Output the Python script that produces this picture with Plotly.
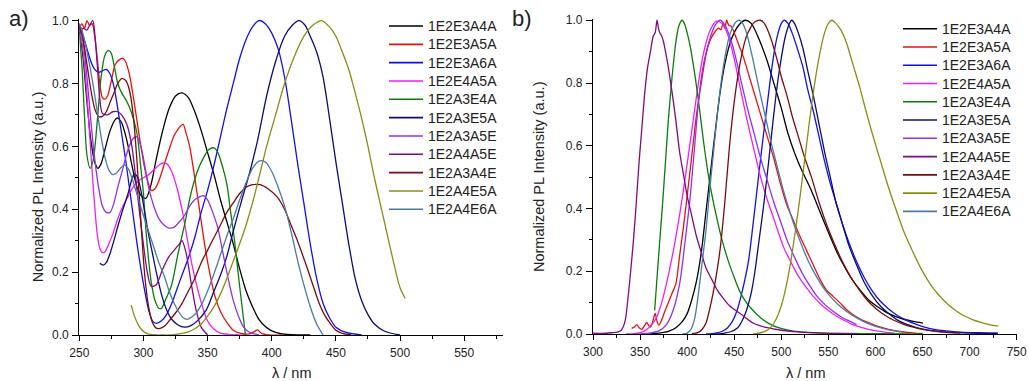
import plotly.graph_objects as go

W, H = 1029, 381
FONT = "Liberation Sans, Arial, Helvetica, sans-serif"
TXT = "#222222"

SERIES = ["1E2E3A4A", "1E2E3A5A", "1E2E3A6A", "1E2E4A5A", "1E2A3E4A", "1E2A3E5A",
          "1E2A3A5E", "1E2A4A5E", "1E2A3A4E", "1E2A4E5A", "1E2A4E6A"]
COLORS = ["#000000", "#e8120c", "#1010f0", "#f020f0", "#0a7d0a", "#0c0c78",
          "#9030f0", "#800a80", "#7a0c0c", "#8c8c14", "#4a7aa8"]

X_TICKS_A = [250, 300, 350, 400, 450, 500, 550]
X_TICKS_B = [300, 350, 400, 450, 500, 550, 600, 650, 700, 750]
Y_TICKS = [0.0, 0.2, 0.4, 0.6, 0.8, 1.0]

# ---------------- panel a ----------------
# 1E2E3A4A
a1_wl = [250, 253, 256, 259, 262, 264.5, 267, 270, 274, 278, 280, 283, 287, 291, 295, 299, 302, 306, 310, 315,
         320, 325, 330, 335, 340, 345, 350, 355, 360, 365, 370, 375, 380, 385, 390, 395, 400, 407, 415, 430]
a1_int = [0.98, 0.88, 0.74, 0.62, 0.55, 0.53, 0.545, 0.59, 0.65, 0.685, 0.69, 0.675, 0.62, 0.54, 0.47, 0.44, 0.435, 0.48, 0.56, 0.65,
          0.72, 0.76, 0.77, 0.755, 0.71, 0.65, 0.58, 0.51, 0.43, 0.36, 0.29, 0.21, 0.14, 0.09, 0.05, 0.027, 0.013, 0.004, 0.001, 0.0]
# 1E2E3A5A
a2_wl = [250, 252, 254, 256, 258, 260, 262, 264, 266, 268, 270, 272, 275, 278, 281, 284, 286, 289, 292, 295,
         298, 301, 304, 306, 309, 312, 316, 320, 324, 327, 329, 331, 333, 336, 340, 344, 348, 352, 356, 360,
         365, 370, 376, 382, 386, 389, 392, 398, 410]
a2_int = [0.97, 0.99, 0.975, 1.0, 0.985, 0.99, 0.95, 0.88, 0.8, 0.755, 0.75, 0.76, 0.81, 0.86, 0.875, 0.88, 0.87, 0.83, 0.76, 0.68,
          0.6, 0.53, 0.48, 0.46, 0.465, 0.49, 0.54, 0.59, 0.635, 0.655, 0.665, 0.67, 0.645, 0.6, 0.5, 0.39, 0.28, 0.19, 0.12, 0.075,
          0.04, 0.015, 0.005, 0.003, 0.01, 0.016, 0.005, 0.0, 0.0]
# 1E2E3A6A
a3_wl = [250, 253, 256, 259, 262, 265, 268, 271, 274, 277, 280, 283, 286, 289, 292, 295, 298, 301, 304, 307,
         310, 314, 318, 322, 326, 330, 335, 340, 345, 350, 355, 360, 365, 370, 375, 380, 385, 390, 395, 400,
         405, 410, 415, 420, 425, 430, 435, 440, 445, 450, 458, 470]
a3_int = [0.98, 0.95, 0.91, 0.87, 0.845, 0.835, 0.84, 0.845, 0.83, 0.79, 0.72, 0.64, 0.56, 0.47, 0.38, 0.29, 0.21, 0.14, 0.08, 0.045,
          0.037, 0.045, 0.065, 0.1, 0.145, 0.19, 0.245, 0.31, 0.39, 0.46, 0.54, 0.63, 0.72, 0.8, 0.88, 0.94, 0.98, 1.0, 0.99, 0.96,
          0.91, 0.82, 0.69, 0.55, 0.42, 0.29, 0.18, 0.1, 0.055, 0.025, 0.008, 0.0]
# 1E2E4A5A
a4_wl = [250, 252, 254, 256, 258, 260, 262, 264, 266, 268, 270, 273, 276, 280, 284, 288, 292, 296, 300, 304,
         308, 312, 315, 318, 322, 326, 330, 334, 338, 342, 346, 350, 355, 360, 367, 380]
a4_int = [0.97, 0.93, 0.86, 0.76, 0.64, 0.52, 0.41, 0.32, 0.275, 0.262, 0.265, 0.29, 0.32, 0.37, 0.41, 0.44, 0.47, 0.49, 0.5, 0.51,
          0.525, 0.54, 0.547, 0.545, 0.52, 0.47, 0.4, 0.31, 0.22, 0.15, 0.09, 0.045, 0.018, 0.006, 0.002, 0.0]
# 1E2A3E4A
a5_wl = [250, 252, 254, 256, 258.5, 261, 264, 267, 270, 273, 275, 277, 280, 283, 286, 289, 292, 295, 298, 300,
         302, 304, 306, 309, 312, 314, 317, 322, 327, 332, 337, 342, 347, 351, 355, 358, 362, 365, 368, 371,
         374, 377, 379.5]
a5_int = [0.96, 0.86, 0.7, 0.57, 0.53, 0.56, 0.68, 0.82, 0.89, 0.905, 0.895, 0.86, 0.8, 0.77, 0.75, 0.725, 0.69, 0.64, 0.53, 0.45,
          0.33, 0.24, 0.17, 0.11, 0.085, 0.085, 0.11, 0.16, 0.26, 0.35, 0.45, 0.52, 0.565, 0.59, 0.595, 0.58, 0.53, 0.48, 0.39, 0.3,
          0.19, 0.085, 0.0]
# 1E2A3E5A
a6_wl = [266, 268.5, 271, 274, 277, 280, 284, 288, 291, 293, 295, 298, 301, 304, 307, 310, 314, 318, 322, 327,
         332, 337, 342, 349, 355, 360, 365, 370, 376, 383, 389, 396, 403, 410, 416, 421, 426, 430, 435, 440,
         445, 450, 455, 460, 465, 470, 475, 480, 488, 500]
a6_int = [0.228, 0.222, 0.23, 0.26, 0.3, 0.345, 0.4, 0.45, 0.495, 0.512, 0.505, 0.46, 0.39, 0.32, 0.26, 0.2, 0.13, 0.08, 0.05, 0.032,
          0.025, 0.03, 0.045, 0.08, 0.14, 0.19, 0.25, 0.33, 0.42, 0.52, 0.62, 0.76, 0.87, 0.95, 0.985, 1.0, 0.985, 0.95, 0.9, 0.82,
          0.69, 0.55, 0.42, 0.29, 0.18, 0.11, 0.065, 0.035, 0.012, 0.0]
# 1E2A3A5E
a7_wl = [250, 253, 256, 259, 262, 265, 268, 271, 274, 277, 280, 284, 288, 292, 295, 298, 301, 304, 308, 312,
         316, 320, 324, 328, 332, 336, 340, 344, 347, 350, 354, 358, 362, 366, 370, 374, 378, 383, 390]
a7_int = [0.99, 0.93, 0.82, 0.68, 0.56, 0.47, 0.41, 0.39, 0.39, 0.42, 0.47, 0.53, 0.59, 0.625, 0.63, 0.6, 0.54, 0.47, 0.41, 0.37,
          0.35, 0.34, 0.343, 0.36, 0.38, 0.41, 0.43, 0.44, 0.443, 0.43, 0.39, 0.34, 0.26, 0.18, 0.11, 0.06, 0.025, 0.008, 0.0]
# 1E2A4A5E
a8_wl = [250, 253, 256, 258, 260.5, 262, 264, 266, 268, 272, 276, 280, 283, 287, 291, 295, 299, 303, 306, 310,
         315, 320, 324, 328, 330, 333, 337, 341, 345, 350]
a8_int = [0.96, 0.975, 0.97, 0.985, 1.0, 0.96, 0.86, 0.75, 0.705, 0.7, 0.71, 0.71, 0.7, 0.67, 0.6, 0.46, 0.32, 0.2, 0.155, 0.16,
          0.21, 0.25, 0.27, 0.29, 0.3, 0.265, 0.17, 0.08, 0.025, 0.0]
# 1E2A3A4E
a9_wl = [250, 253, 256, 259, 262, 265, 268, 271, 274, 277, 280, 283, 286, 289, 292, 295, 298, 301, 304, 307,
         310, 313, 317, 321, 325, 330, 335, 340, 345, 350, 355, 360, 365, 370, 375, 380, 385, 391, 397, 404,
         410, 415, 420, 427, 432, 437, 441, 445, 450, 455, 462]
a9_int = [0.99, 0.94, 0.86, 0.78, 0.72, 0.695, 0.695, 0.71, 0.74, 0.77, 0.8, 0.815, 0.81, 0.78, 0.7, 0.55, 0.36, 0.19, 0.09, 0.04,
          0.022, 0.021, 0.03, 0.05, 0.07, 0.1, 0.14, 0.18, 0.23, 0.27, 0.31, 0.35, 0.39, 0.42, 0.45, 0.47, 0.478, 0.478, 0.465, 0.44,
          0.4, 0.35, 0.3, 0.22, 0.16, 0.1, 0.065, 0.04, 0.015, 0.005, 0.0]
# 1E2A4E5A
a10_wl = [290.5, 293, 296, 299, 302, 305, 310, 315, 320, 325, 330, 335, 340, 345, 350, 355, 360, 365, 370, 375,
          380, 385, 390, 396, 403, 410, 418, 425, 432, 439, 445, 450, 455, 460, 465, 470, 475, 480, 485, 490,
          495, 500, 504]
a10_int = [0.095, 0.06, 0.032, 0.015, 0.006, 0.002, 0.0, 0.0, 0.0, 0.002, 0.005, 0.01, 0.02, 0.035, 0.06, 0.09, 0.13, 0.18, 0.235, 0.29,
           0.35, 0.42, 0.5, 0.6, 0.7, 0.8, 0.89, 0.95, 0.985, 1.0, 0.98, 0.95, 0.9, 0.845, 0.77, 0.69, 0.6, 0.5, 0.41, 0.32,
           0.23, 0.15, 0.116]
# 1E2A4E6A
a11_wl = [250, 252, 255, 258, 261, 264, 267, 270, 273, 276, 279, 282, 285, 288, 291, 294, 297, 300, 304, 308,
          312, 316, 320, 324, 328, 331, 334, 340, 345, 350, 355, 360, 365, 370, 375, 380, 385, 390, 395, 400,
          405, 410, 415, 420, 425, 430, 435, 440]
a11_int = [0.99, 0.97, 0.92, 0.86, 0.79, 0.71, 0.63, 0.565, 0.525, 0.51, 0.515, 0.53, 0.54, 0.53, 0.5, 0.46, 0.42, 0.38, 0.33, 0.28,
           0.23, 0.19, 0.14, 0.1, 0.07, 0.055, 0.05, 0.065, 0.095, 0.14, 0.195, 0.255, 0.315, 0.37, 0.43, 0.485, 0.53, 0.553, 0.55, 0.52,
           0.47, 0.41, 0.33, 0.24, 0.16, 0.09, 0.035, 0.0]

# ---------------- panel b ----------------
# 1E2E3A4A
b1_wl = [355, 370, 380, 388, 395, 400, 405, 410, 415, 420, 425, 430, 435, 440, 447, 455, 462, 468, 477, 485,
         492, 500, 507, 515, 522, 530, 537, 545, 552, 560, 568, 576, 585, 594, 603, 612, 621, 630, 640, 650.5]
b1_int = [0.0, 0.003, 0.008, 0.02, 0.04, 0.065, 0.11, 0.17, 0.26, 0.39, 0.52, 0.65, 0.77, 0.86, 0.94, 0.985, 1.0, 0.99, 0.935, 0.87,
          0.8, 0.72, 0.64, 0.57, 0.52, 0.47, 0.42, 0.36, 0.31, 0.255, 0.21, 0.17, 0.135, 0.105, 0.085, 0.068, 0.056, 0.047, 0.04, 0.035]
# 1E2E3A5A
b2_wl = [341, 344, 346.5, 349, 352, 355, 357, 359, 361, 363.5, 366, 368, 370, 373, 376, 380, 384, 388, 392, 396,
         400, 405, 410, 415, 420, 425, 430, 433, 436, 438, 440, 442, 444, 447, 450, 455, 460, 466, 472, 478,
         485, 492, 499, 506, 513, 520, 527, 534, 541, 548, 555, 562, 570, 578, 586, 594, 602, 610, 618, 626,
         634, 642, 650]
b2_int = [0.018, 0.022, 0.03, 0.02, 0.015, 0.028, 0.037, 0.028, 0.022, 0.04, 0.066, 0.04, 0.028, 0.045, 0.07, 0.1, 0.13, 0.16, 0.25, 0.34,
          0.44, 0.57, 0.7, 0.8, 0.89, 0.94, 0.965, 0.975, 0.97, 0.99, 0.975, 1.0, 0.985, 0.98, 0.96, 0.92, 0.88, 0.82, 0.76, 0.7,
          0.63, 0.56, 0.48, 0.41, 0.36, 0.31, 0.265, 0.22, 0.175, 0.14, 0.12, 0.1, 0.076, 0.058, 0.044, 0.035, 0.025, 0.018, 0.012, 0.008,
          0.005, 0.003, 0.002]
# 1E2E3A6A
b3_wl = [420, 430, 437, 443, 448, 453, 458, 465, 470, 475, 480, 485, 490, 495, 500, 503, 507, 512, 517, 523,
         528, 534, 540, 546, 552, 558, 565, 572, 580, 588, 596, 605, 614, 623, 632, 642, 652, 662, 675, 690,
         710, 730]
b3_int = [0.0, 0.003, 0.008, 0.02, 0.04, 0.075, 0.13, 0.23, 0.35, 0.48, 0.61, 0.73, 0.85, 0.94, 0.99, 1.0, 0.99, 0.955, 0.91, 0.85,
          0.78, 0.71, 0.63, 0.55, 0.48, 0.42, 0.35, 0.29, 0.23, 0.18, 0.14, 0.105, 0.08, 0.06, 0.045, 0.032, 0.022, 0.015, 0.01, 0.006,
          0.004, 0.003]
# 1E2E4A5A
b4_wl = [335, 348, 355, 361, 367, 372, 378, 385, 392, 399, 405, 411, 417, 424, 431, 437, 443, 449, 456, 463,
         470, 478, 486, 494, 502, 510, 518, 526, 534, 542, 550, 558, 567, 576, 585, 594, 603, 612, 620]
b4_int = [0.0, 0.003, 0.01, 0.025, 0.05, 0.09, 0.16, 0.26, 0.38, 0.52, 0.65, 0.78, 0.89, 0.965, 0.997, 0.99, 0.955, 0.89, 0.79, 0.69,
          0.6, 0.5, 0.42, 0.35, 0.28, 0.23, 0.185, 0.15, 0.12, 0.095, 0.075, 0.058, 0.043, 0.03, 0.021, 0.014, 0.009, 0.005, 0.003]
# 1E2A3E4A
b5_wl = [365.5, 368, 371, 374, 377, 380, 384, 388, 391, 394.5, 397, 400, 403, 408, 413, 418, 424, 430, 437, 444,
         450, 456, 463, 470, 478, 487, 497, 510, 525, 545, 570, 600, 650]
b5_int = [0.075, 0.18, 0.3, 0.42, 0.55, 0.68, 0.82, 0.93, 0.98, 1.0, 0.99, 0.96, 0.92, 0.83, 0.72, 0.6, 0.48, 0.39, 0.3, 0.23,
          0.18, 0.135, 0.1, 0.075, 0.052, 0.033, 0.02, 0.011, 0.006, 0.003, 0.002, 0.001, 0.0]
# 1E2A3E5A
b6_wl = [430, 440, 447, 453, 458, 463, 468, 472, 476, 480, 484, 488, 492, 496, 500, 504, 508, 511, 514, 518,
         523, 528, 534, 540, 546, 552, 558, 565, 572, 580, 588, 596, 605, 614, 623, 632, 642, 652, 665, 680,
         700, 730]
b6_int = [0.0, 0.003, 0.008, 0.018, 0.04, 0.075, 0.13, 0.2, 0.29, 0.38, 0.48, 0.59, 0.7, 0.8, 0.88, 0.945, 0.985, 1.0, 0.99, 0.96,
          0.91, 0.84, 0.76, 0.67, 0.58, 0.5, 0.42, 0.35, 0.28, 0.22, 0.165, 0.125, 0.09, 0.065, 0.045, 0.032, 0.022, 0.015, 0.009, 0.005,
          0.003, 0.002]
# 1E2A3A5E
b7_wl = [345, 360, 370, 378, 385, 392, 398, 403, 408, 413, 418, 424, 430, 435, 440, 445, 450, 457, 464, 471,
         478, 485, 492, 499, 506, 514, 522, 530, 538, 547, 556, 565, 573, 580]
b7_int = [0.0, 0.003, 0.01, 0.03, 0.075, 0.16, 0.3, 0.43, 0.6, 0.77, 0.87, 0.94, 0.985, 1.0, 0.985, 0.95, 0.9, 0.81, 0.72, 0.64,
          0.56, 0.49, 0.42, 0.36, 0.3, 0.245, 0.195, 0.155, 0.12, 0.092, 0.07, 0.052, 0.04, 0.03]
# 1E2A4A5E
b8_wl = [300, 310, 320, 326, 330, 334, 337, 340, 343, 346, 349, 352, 355, 358, 361, 364, 366, 368, 369.5, 371,
         373, 375, 377, 380, 384, 388, 392, 396, 400, 405, 410, 415, 420, 426, 432, 438, 445, 456, 470, 485,
         500, 520, 545, 580]
b8_int = [0.003, 0.002, 0.004, 0.006, 0.012, 0.04, 0.11, 0.2, 0.3, 0.42, 0.55, 0.66, 0.77, 0.85, 0.9, 0.95, 0.96, 1.0, 0.975, 0.96,
          0.95, 0.93, 0.9, 0.85, 0.77, 0.68, 0.58, 0.51, 0.44, 0.375, 0.31, 0.26, 0.21, 0.175, 0.14, 0.115, 0.09, 0.066, 0.035, 0.02,
          0.012, 0.006, 0.003, 0.001]
# 1E2A3A4E
b9_wl = [405, 412, 416, 420, 424, 430, 435, 440, 445, 450, 456, 462, 467, 472, 478, 482, 488, 495, 500, 506,
         512, 518, 525, 532, 540, 548, 556, 565, 574, 583, 592, 601, 610, 620, 630, 640, 650, 662, 675, 690]
b9_int = [0.0, 0.005, 0.015, 0.035, 0.08, 0.17, 0.27, 0.42, 0.6, 0.74, 0.86, 0.94, 0.975, 0.995, 1.0, 0.99, 0.95, 0.88, 0.82, 0.76,
          0.69, 0.63, 0.56, 0.5, 0.42, 0.35, 0.29, 0.23, 0.18, 0.14, 0.105, 0.08, 0.06, 0.043, 0.031, 0.022, 0.015, 0.009, 0.005, 0.003]
# 1E2A4E5A
b10_wl = [470, 478, 485, 490, 495, 500, 505, 510, 515, 520, 525, 530, 535, 540, 545, 549, 553.5, 558, 563, 569,
          576, 583, 590, 597, 605, 613, 622, 631, 640, 649, 658, 667, 676, 685, 694, 703, 712, 721, 730.5]
b10_int = [0.0, 0.004, 0.012, 0.025, 0.05, 0.09, 0.15, 0.23, 0.33, 0.44, 0.56, 0.68, 0.79, 0.88, 0.95, 0.985, 1.0, 0.99, 0.97, 0.93,
           0.86, 0.79, 0.71, 0.635, 0.555, 0.475, 0.395, 0.32, 0.26, 0.205, 0.16, 0.125, 0.097, 0.075, 0.058, 0.046, 0.037, 0.03, 0.025]
# 1E2A4E6A
b11_wl = [395, 400, 404, 408, 412, 416, 420, 424, 428, 432, 436, 440, 444, 448, 452, 455.5, 459, 463, 468, 473,
          478, 484, 490, 496, 502, 508, 515, 522, 529, 536, 544, 552, 560, 568, 577, 586, 595, 604, 613, 622, 630]
b11_int = [0.0, 0.003, 0.015, 0.05, 0.13, 0.23, 0.33, 0.46, 0.58, 0.7, 0.8, 0.88, 0.94, 0.975, 0.995, 1.0, 0.99, 0.96, 0.9, 0.83,
           0.76, 0.68, 0.6, 0.53, 0.46, 0.4, 0.335, 0.28, 0.23, 0.19, 0.15, 0.12, 0.095, 0.075, 0.057, 0.042, 0.03, 0.021, 0.014, 0.009, 0.006]

PANEL_A = [(a1_wl, a1_int), (a2_wl, a2_int), (a3_wl, a3_int), (a4_wl, a4_int), (a5_wl, a5_int), (a6_wl, a6_int),
           (a7_wl, a7_int), (a8_wl, a8_int), (a9_wl, a9_int), (a10_wl, a10_int), (a11_wl, a11_int)]
PANEL_B = [(b1_wl, b1_int), (b2_wl, b2_int), (b3_wl, b3_int), (b4_wl, b4_int), (b5_wl, b5_int), (b6_wl, b6_int),
           (b7_wl, b7_int), (b8_wl, b8_int), (b9_wl, b9_int), (b10_wl, b10_int), (b11_wl, b11_int)]


def px(x):
    return x / W


def py(y):
    return 1 - y / H


fig = go.Figure()
for panel, (xa, ya) in ((PANEL_A, ("x", "y")), (PANEL_B, ("x2", "y2"))):
    for name, color, (wl, val) in zip(SERIES, COLORS, panel):
        assert len(wl) == len(val), name
        fig.add_trace(go.Scatter(
            x=wl, y=val, mode="lines", name=name, xaxis=xa, yaxis=ya, showlegend=False,
            line=dict(color=color, width=1.3, shape="spline", smoothing=0.8),
        ))

axis_common = dict(
    showline=True, linecolor="black", linewidth=1.3, showgrid=False, zeroline=False, automargin=False,
    ticks="outside", tickcolor="black", tickwidth=1.2,
    tickfont=dict(family=FONT, size=12, color=TXT), ticklabelstandoff=1,
)

fig.update_layout(
    template="none",
    width=W, height=H, margin=dict(l=0, r=0, t=0, b=0, pad=0),
    paper_bgcolor="white", plot_bgcolor="white", showlegend=False,
    font=dict(family=FONT, color=TXT),
    xaxis=dict(domain=[px(79.3), px(502.7)], range=[250, 580], tickvals=X_TICKS_A, ticklen=5,
               minor=dict(ticks="outside", dtick=25, tick0=250, ticklen=3, tickcolor="black", tickwidth=1),
               anchor="y", **axis_common),
    yaxis=dict(domain=[py(335), py(19.3)], range=[0, 1.004], tickvals=Y_TICKS,
               ticktext=[f"{v:.1f}" for v in Y_TICKS], ticklen=6,
               minor=dict(ticks="outside", dtick=0.1, tick0=0, ticklen=3, tickcolor="black", tickwidth=1),
               anchor="x", **axis_common),
    xaxis2=dict(domain=[px(593), px(1016.7)], range=[300, 750], tickvals=X_TICKS_B, ticklen=5,
                minor=dict(ticks="outside", dtick=25, tick0=300, ticklen=3, tickcolor="black", tickwidth=1),
                anchor="y2", **axis_common),
    yaxis2=dict(domain=[py(334), py(19)], range=[0, 1.004], tickvals=Y_TICKS,
                ticktext=[f"{v:.1f}" for v in Y_TICKS], ticklen=6,
                minor=dict(ticks="outside", dtick=0.1, tick0=0, ticklen=3, tickcolor="black", tickwidth=1),
                anchor="x2", **axis_common),
)

ann = []
shapes = []

# panel letters
ann.append(dict(text="a)", x=px(7), y=py(19), xref="paper", yref="paper", xanchor="left", yanchor="middle",
                showarrow=False, font=dict(family=FONT, size=22, color=TXT)))
ann.append(dict(text="b)", x=px(510), y=py(19), xref="paper", yref="paper", xanchor="left", yanchor="middle",
                showarrow=False, font=dict(family=FONT, size=22, color=TXT)))

# axis titles
for cx, cy in ((37.7, 187.5), (539, 177)):
    ann.append(dict(text="Normalized PL Intensity (a.u.)", x=px(cx), y=py(cy), xref="paper", yref="paper",
                    xanchor="center", yanchor="middle", textangle=-90, showarrow=False,
                    font=dict(family=FONT, size=14.5, color=TXT)))
for cx in (291, 805):
    ann.append(dict(text="λ / nm", x=px(cx), y=py(373), xref="paper", yref="paper",
                    xanchor="center", yanchor="middle", showarrow=False,
                    font=dict(family=FONT, size=14.5, color=TXT)))

# legends: line sample plus series name, one column per panel
for x0, x1, xt, y0, dy in ((389, 423, 426, 26, 18.33), (903, 937, 940, 28.7, 18.27)):
    for i, (name, color) in enumerate(zip(SERIES, COLORS)):
        yy = y0 + i * dy
        shapes.append(dict(type="line", xref="paper", yref="paper", x0=px(x0), x1=px(x1), y0=py(yy), y1=py(yy),
                           line=dict(color=color, width=1.6)))
        ann.append(dict(text=name, x=px(xt), y=py(yy), xref="paper", yref="paper", xanchor="left",
                        yanchor="middle", showarrow=False, font=dict(family=FONT, size=14, color=TXT)))

fig.update_layout(annotations=ann, shapes=shapes)
fig.write_html("out.html")
